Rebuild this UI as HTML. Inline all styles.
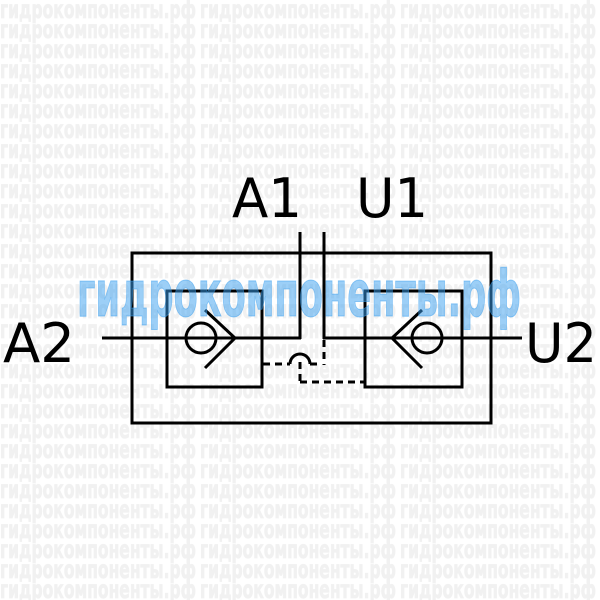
<!DOCTYPE html>
<html><head><meta charset="utf-8"><style>html,body{margin:0;padding:0;background:#fff}svg{display:block}</style></head>
<body>
<svg width="600" height="600" viewBox="0 0 600 600" xmlns="http://www.w3.org/2000/svg">
<defs>
<g id="row"><text x="0" y="0" textLength="196" lengthAdjust="spacingAndGlyphs">гидрокомпоненты.рф</text><text x="200" y="0" textLength="196" lengthAdjust="spacingAndGlyphs">гидрокомпоненты.рф</text><text x="400" y="0" textLength="196" lengthAdjust="spacingAndGlyphs">гидрокомпоненты.рф</text></g>
</defs>
<g font-family="'DejaVu Sans Condensed','DejaVu Sans',sans-serif" font-weight="bold" font-size="25" fill="#f1f1f1" stroke="#f1f1f1" stroke-width="0.8">
<text x="0" y="18" textLength="196" lengthAdjust="spacingAndGlyphs">гидрокомпоненты.рф</text><text x="200" y="18" textLength="196" lengthAdjust="spacingAndGlyphs">гидрокомпоненты.рф</text><text x="400" y="18" textLength="196" lengthAdjust="spacingAndGlyphs">гидрокомпоненты.рф</text>
<text x="0" y="38" textLength="196" lengthAdjust="spacingAndGlyphs">гидрокомпоненты.рф</text><text x="200" y="38" textLength="196" lengthAdjust="spacingAndGlyphs">гидрокомпоненты.рф</text><text x="400" y="38" textLength="196" lengthAdjust="spacingAndGlyphs">гидрокомпоненты.рф</text>
<text x="0" y="58" textLength="196" lengthAdjust="spacingAndGlyphs">гидрокомпоненты.рф</text><text x="200" y="58" textLength="196" lengthAdjust="spacingAndGlyphs">гидрокомпоненты.рф</text><text x="400" y="58" textLength="196" lengthAdjust="spacingAndGlyphs">гидрокомпоненты.рф</text>
<text x="0" y="78" textLength="196" lengthAdjust="spacingAndGlyphs">гидрокомпоненты.рф</text><text x="200" y="78" textLength="196" lengthAdjust="spacingAndGlyphs">гидрокомпоненты.рф</text><text x="400" y="78" textLength="196" lengthAdjust="spacingAndGlyphs">гидрокомпоненты.рф</text>
<text x="0" y="98" textLength="196" lengthAdjust="spacingAndGlyphs">гидрокомпоненты.рф</text><text x="200" y="98" textLength="196" lengthAdjust="spacingAndGlyphs">гидрокомпоненты.рф</text><text x="400" y="98" textLength="196" lengthAdjust="spacingAndGlyphs">гидрокомпоненты.рф</text>
<text x="0" y="118" textLength="196" lengthAdjust="spacingAndGlyphs">гидрокомпоненты.рф</text><text x="200" y="118" textLength="196" lengthAdjust="spacingAndGlyphs">гидрокомпоненты.рф</text><text x="400" y="118" textLength="196" lengthAdjust="spacingAndGlyphs">гидрокомпоненты.рф</text>
<text x="0" y="138" textLength="196" lengthAdjust="spacingAndGlyphs">гидрокомпоненты.рф</text><text x="200" y="138" textLength="196" lengthAdjust="spacingAndGlyphs">гидрокомпоненты.рф</text><text x="400" y="138" textLength="196" lengthAdjust="spacingAndGlyphs">гидрокомпоненты.рф</text>
<text x="0" y="158" textLength="196" lengthAdjust="spacingAndGlyphs">гидрокомпоненты.рф</text><text x="200" y="158" textLength="196" lengthAdjust="spacingAndGlyphs">гидрокомпоненты.рф</text><text x="400" y="158" textLength="196" lengthAdjust="spacingAndGlyphs">гидрокомпоненты.рф</text>
<text x="0" y="178" textLength="196" lengthAdjust="spacingAndGlyphs">гидрокомпоненты.рф</text><text x="200" y="178" textLength="196" lengthAdjust="spacingAndGlyphs">гидрокомпоненты.рф</text><text x="400" y="178" textLength="196" lengthAdjust="spacingAndGlyphs">гидрокомпоненты.рф</text>
<text x="0" y="198" textLength="196" lengthAdjust="spacingAndGlyphs">гидрокомпоненты.рф</text><text x="200" y="198" textLength="196" lengthAdjust="spacingAndGlyphs">гидрокомпоненты.рф</text><text x="400" y="198" textLength="196" lengthAdjust="spacingAndGlyphs">гидрокомпоненты.рф</text>
<text x="0" y="218" textLength="196" lengthAdjust="spacingAndGlyphs">гидрокомпоненты.рф</text><text x="200" y="218" textLength="196" lengthAdjust="spacingAndGlyphs">гидрокомпоненты.рф</text><text x="400" y="218" textLength="196" lengthAdjust="spacingAndGlyphs">гидрокомпоненты.рф</text>
<text x="0" y="238" textLength="196" lengthAdjust="spacingAndGlyphs">гидрокомпоненты.рф</text><text x="200" y="238" textLength="196" lengthAdjust="spacingAndGlyphs">гидрокомпоненты.рф</text><text x="400" y="238" textLength="196" lengthAdjust="spacingAndGlyphs">гидрокомпоненты.рф</text>
<text x="0" y="258" textLength="196" lengthAdjust="spacingAndGlyphs">гидрокомпоненты.рф</text><text x="200" y="258" textLength="196" lengthAdjust="spacingAndGlyphs">гидрокомпоненты.рф</text><text x="400" y="258" textLength="196" lengthAdjust="spacingAndGlyphs">гидрокомпоненты.рф</text>
<text x="0" y="278" textLength="196" lengthAdjust="spacingAndGlyphs">гидрокомпоненты.рф</text><text x="200" y="278" textLength="196" lengthAdjust="spacingAndGlyphs">гидрокомпоненты.рф</text><text x="400" y="278" textLength="196" lengthAdjust="spacingAndGlyphs">гидрокомпоненты.рф</text>
<text x="0" y="298" textLength="196" lengthAdjust="spacingAndGlyphs">гидрокомпоненты.рф</text><text x="200" y="298" textLength="196" lengthAdjust="spacingAndGlyphs">гидрокомпоненты.рф</text><text x="400" y="298" textLength="196" lengthAdjust="spacingAndGlyphs">гидрокомпоненты.рф</text>
<text x="0" y="318" textLength="196" lengthAdjust="spacingAndGlyphs">гидрокомпоненты.рф</text><text x="200" y="318" textLength="196" lengthAdjust="spacingAndGlyphs">гидрокомпоненты.рф</text><text x="400" y="318" textLength="196" lengthAdjust="spacingAndGlyphs">гидрокомпоненты.рф</text>
<text x="0" y="338" textLength="196" lengthAdjust="spacingAndGlyphs">гидрокомпоненты.рф</text><text x="200" y="338" textLength="196" lengthAdjust="spacingAndGlyphs">гидрокомпоненты.рф</text><text x="400" y="338" textLength="196" lengthAdjust="spacingAndGlyphs">гидрокомпоненты.рф</text>
<text x="0" y="358" textLength="196" lengthAdjust="spacingAndGlyphs">гидрокомпоненты.рф</text><text x="200" y="358" textLength="196" lengthAdjust="spacingAndGlyphs">гидрокомпоненты.рф</text><text x="400" y="358" textLength="196" lengthAdjust="spacingAndGlyphs">гидрокомпоненты.рф</text>
<text x="0" y="378" textLength="196" lengthAdjust="spacingAndGlyphs">гидрокомпоненты.рф</text><text x="200" y="378" textLength="196" lengthAdjust="spacingAndGlyphs">гидрокомпоненты.рф</text><text x="400" y="378" textLength="196" lengthAdjust="spacingAndGlyphs">гидрокомпоненты.рф</text>
<text x="0" y="398" textLength="196" lengthAdjust="spacingAndGlyphs">гидрокомпоненты.рф</text><text x="200" y="398" textLength="196" lengthAdjust="spacingAndGlyphs">гидрокомпоненты.рф</text><text x="400" y="398" textLength="196" lengthAdjust="spacingAndGlyphs">гидрокомпоненты.рф</text>
<text x="0" y="418" textLength="196" lengthAdjust="spacingAndGlyphs">гидрокомпоненты.рф</text><text x="200" y="418" textLength="196" lengthAdjust="spacingAndGlyphs">гидрокомпоненты.рф</text><text x="400" y="418" textLength="196" lengthAdjust="spacingAndGlyphs">гидрокомпоненты.рф</text>
<text x="0" y="438" textLength="196" lengthAdjust="spacingAndGlyphs">гидрокомпоненты.рф</text><text x="200" y="438" textLength="196" lengthAdjust="spacingAndGlyphs">гидрокомпоненты.рф</text><text x="400" y="438" textLength="196" lengthAdjust="spacingAndGlyphs">гидрокомпоненты.рф</text>
<text x="0" y="458" textLength="196" lengthAdjust="spacingAndGlyphs">гидрокомпоненты.рф</text><text x="200" y="458" textLength="196" lengthAdjust="spacingAndGlyphs">гидрокомпоненты.рф</text><text x="400" y="458" textLength="196" lengthAdjust="spacingAndGlyphs">гидрокомпоненты.рф</text>
<text x="0" y="478" textLength="196" lengthAdjust="spacingAndGlyphs">гидрокомпоненты.рф</text><text x="200" y="478" textLength="196" lengthAdjust="spacingAndGlyphs">гидрокомпоненты.рф</text><text x="400" y="478" textLength="196" lengthAdjust="spacingAndGlyphs">гидрокомпоненты.рф</text>
<text x="0" y="498" textLength="196" lengthAdjust="spacingAndGlyphs">гидрокомпоненты.рф</text><text x="200" y="498" textLength="196" lengthAdjust="spacingAndGlyphs">гидрокомпоненты.рф</text><text x="400" y="498" textLength="196" lengthAdjust="spacingAndGlyphs">гидрокомпоненты.рф</text>
<text x="0" y="518" textLength="196" lengthAdjust="spacingAndGlyphs">гидрокомпоненты.рф</text><text x="200" y="518" textLength="196" lengthAdjust="spacingAndGlyphs">гидрокомпоненты.рф</text><text x="400" y="518" textLength="196" lengthAdjust="spacingAndGlyphs">гидрокомпоненты.рф</text>
<text x="0" y="538" textLength="196" lengthAdjust="spacingAndGlyphs">гидрокомпоненты.рф</text><text x="200" y="538" textLength="196" lengthAdjust="spacingAndGlyphs">гидрокомпоненты.рф</text><text x="400" y="538" textLength="196" lengthAdjust="spacingAndGlyphs">гидрокомпоненты.рф</text>
<text x="0" y="558" textLength="196" lengthAdjust="spacingAndGlyphs">гидрокомпоненты.рф</text><text x="200" y="558" textLength="196" lengthAdjust="spacingAndGlyphs">гидрокомпоненты.рф</text><text x="400" y="558" textLength="196" lengthAdjust="spacingAndGlyphs">гидрокомпоненты.рф</text>
<text x="0" y="578" textLength="196" lengthAdjust="spacingAndGlyphs">гидрокомпоненты.рф</text><text x="200" y="578" textLength="196" lengthAdjust="spacingAndGlyphs">гидрокомпоненты.рф</text><text x="400" y="578" textLength="196" lengthAdjust="spacingAndGlyphs">гидрокомпоненты.рф</text>
<text x="0" y="598" textLength="196" lengthAdjust="spacingAndGlyphs">гидрокомпоненты.рф</text><text x="200" y="598" textLength="196" lengthAdjust="spacingAndGlyphs">гидрокомпоненты.рф</text><text x="400" y="598" textLength="196" lengthAdjust="spacingAndGlyphs">гидрокомпоненты.рф</text>
</g>
<g stroke="#000" stroke-width="3" fill="none">
<rect x="132" y="253" width="359" height="170"/>
<rect x="167" y="291" width="95" height="96"/>
<rect x="365" y="291" width="97" height="96"/>
<line x1="102" y1="338" x2="301" y2="338"/>
<line x1="323" y1="338" x2="522" y2="338"/>
<line x1="300" y1="232" x2="300" y2="339"/>
<line x1="324" y1="232" x2="324" y2="339"/>
<circle cx="201" cy="338" r="15"/>
<polyline points="205,310 235,338 205,368"/>
<circle cx="427" cy="338" r="15"/>
<polyline points="422,310 392,338 422,368"/>
<g stroke-dasharray="7,5">
<line x1="263" y1="364" x2="290" y2="364"/>
<line x1="310" y1="364" x2="322" y2="364"/>
<line x1="324" y1="340" x2="324" y2="365"/>
<line x1="300" y1="362" x2="300" y2="382"/>
<line x1="300" y1="382" x2="364" y2="382"/>
</g>
<path d="M290,364 A10,10 0 0 1 310,364"/>
</g>
<text x="77" y="316" font-family="'DejaVu Sans Condensed','DejaVu Sans',sans-serif" font-weight="bold" font-size="64" fill="#3aa0f0" fill-opacity="0.5" stroke="#3aa0f0" stroke-opacity="0.5" stroke-width="1" textLength="444" lengthAdjust="spacingAndGlyphs">гидрокомпоненты.рф</text>
<g font-family="'DejaVu Sans',sans-serif" font-size="54" fill="#000">
<text x="232" y="217" textLength="70" lengthAdjust="spacingAndGlyphs">A1</text>
<text x="356" y="217" textLength="72" lengthAdjust="spacingAndGlyphs">U1</text>
<text x="3" y="362" textLength="72" lengthAdjust="spacingAndGlyphs">A2</text>
<text x="525" y="362" textLength="72" lengthAdjust="spacingAndGlyphs">U2</text>
</g>
</svg>
</body></html>
